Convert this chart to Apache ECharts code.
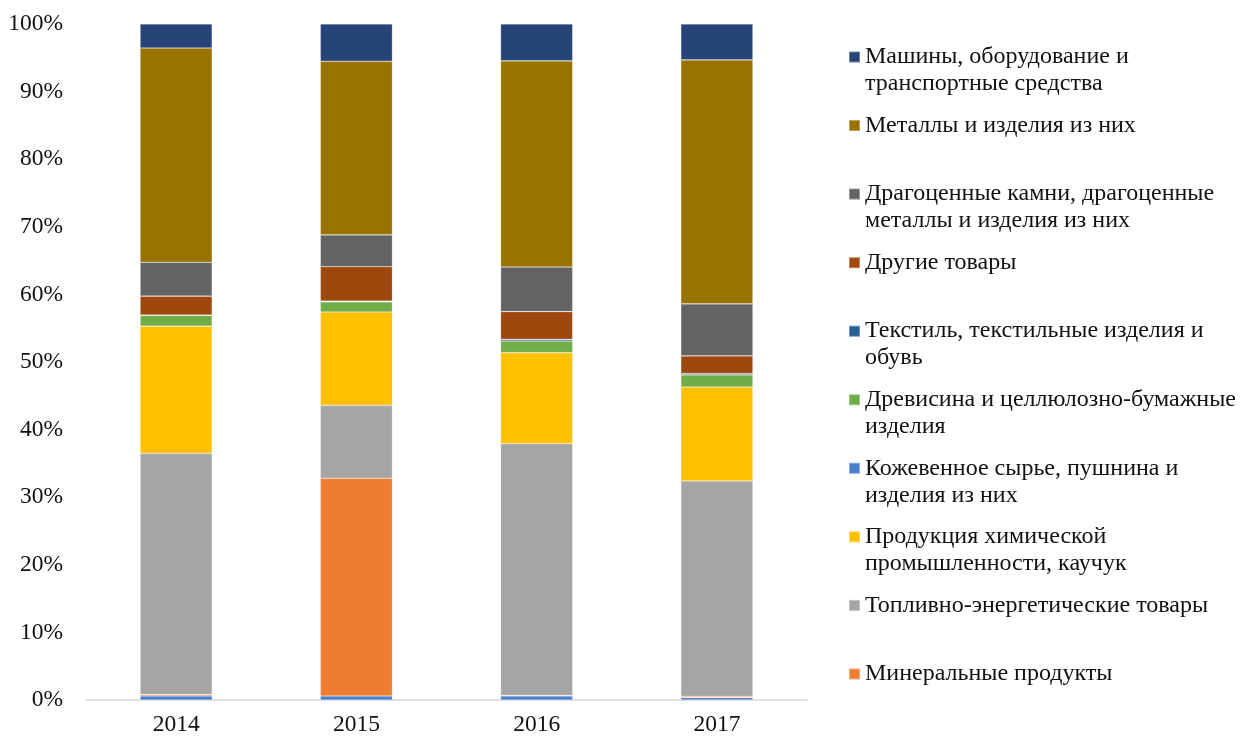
<!DOCTYPE html>
<html>
<head>
<meta charset="utf-8">
<script src="https://cdn.jsdelivr.net/npm/echarts@6/dist/echarts.min.js"></script>
<style>html,body{margin:0;padding:0;background:#fff;}#c{width:1241px;height:738px;}</style>
</head>
<body>
<div id="c"></div>
<script>
// Categories
const years = ['2014', '2015', '2016', '2017'];
// Series (bottom to top of stack), shares in %
const leather   = [0.6, 0.6, 0.6, 0.35];
const mineral   = [0.2, 32.2, 0.1, 0.2];
const fuel      = [35.7, 10.8, 37.2, 31.85];
const chem      = [18.8, 13.8, 13.5, 13.9];
const wood      = [1.6, 1.5, 1.7, 1.8];
const textile   = [0.05, 0.1, 0.25, 0.2];
const other     = [2.8, 5.1, 4.1, 2.6];
const gems      = [5.0, 4.7, 6.6, 7.7];
const metals    = [31.7, 25.7, 30.5, 36.1];
const machinery = [3.55, 5.5, 5.45, 5.3];

const seriesNames = [
  'Кожевенное сырье, пушнина и\nизделия из них',
  'Минеральные продукты',
  'Топливно-энергетические товары',
  'Продукция химической\nпромышленности, каучук',
  'Древисина и целлюлозно-бумажные\nизделия',
  'Текстиль, текстильные изделия и\nобувь',
  'Другие товары',
  'Драгоценные камни, драгоценные\nметаллы и изделия из них',
  'Металлы и изделия из них',
  'Машины, оборудование и\nтранспортные средства'
];
const seriesData = [leather, mineral, fuel, chem, wood, textile, other, gems, metals, machinery];
const colors = ['#4a7fcb', '#ED7D31', '#A5A5A5', '#FFC000', '#70AD47', '#255E91', '#9E480E', '#636363', '#997300', '#264478'];
// Legend order, top to bottom (indices into seriesNames)
const legendOrder = [9, 8, 7, 6, 5, 4, 0, 3, 2, 1];
const yTickLabels = ['0%','10%','20%','30%','40%','50%','60%','70%','80%','90%','100%'];

const FONT = '"Liberation Serif", "Times New Roman", serif';
const LH = 27;

const legends = legendOrder.map((idx, i) => {
  const name = seriesNames[idx];
  const twoLine = name.indexOf('\n') >= 0;
  const yc = 57 + 68.55 * i;
  return {
    orient: 'vertical',
    left: 848,
    top: twoLine ? yc - 1.5 * LH : yc - 0.5 * LH,
    padding: 0,
    itemWidth: 11,
    itemHeight: 11,
    icon: 'rect',
    selectedMode: false,
    data: [name],
    formatter: n => (n.indexOf('\n') >= 0 ? '\n' + n : n),
    textStyle: { fontFamily: FONT, fontSize: 24, color: '#111', lineHeight: LH }
  };
});

const chart = echarts.init(document.getElementById('c'), null, { renderer: 'canvas' });
chart.setOption({
  animation: false,
  backgroundColor: '#fff',
  color: colors,
  grid: { left: 86, right: 434, top: 24, bottom: 38, containLabel: false },
  legend: legends,
  xAxis: {
    type: 'category',
    data: years,
    axisLine: { lineStyle: { color: '#d9d9d9', width: 1.5 } },
    axisTick: { show: false },
    axisLabel: { fontFamily: FONT, fontSize: 23.5, color: '#111', margin: 13 }
  },
  yAxis: {
    type: 'value',
    min: 0, max: 100, interval: 10,
    axisLine: { show: false },
    axisTick: { show: false },
    splitLine: { show: false },
    axisLabel: {
      fontFamily: FONT, fontSize: 23.5, color: '#111', margin: 23,
      formatter: v => yTickLabels[Math.round(v / 10)]
    }
  },
  series: seriesNames.map((name, i) => ({
    name: name,
    type: 'bar',
    stack: 'total',
    barWidth: '40%',
    data: seriesData[i],
    itemStyle: { color: colors[i], borderColor: 'rgba(255,255,255,0.35)', borderWidth: 0.6 }
  }))
});
</script>
</body>
</html>
